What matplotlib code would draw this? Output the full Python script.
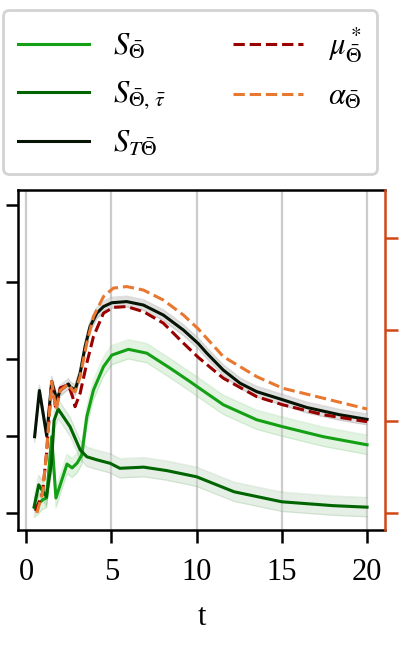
import matplotlib
matplotlib.use("Agg")
import matplotlib.pyplot as plt
import numpy as np

plt.rcParams['font.family'] = ['Liberation Serif', 'DejaVu Serif']
plt.rcParams['mathtext.fontset'] = 'stix'

# values (left-axis units)
t_S = [0.5, 0.96, 1.2, 1.5, 1.75, 2.4, 2.7, 3.0, 3.26, 3.56, 3.95, 4.54, 5.03, 6.0, 7.08, 8.45,
       9.62, 10.1, 11.57, 13.53, 15.05, 17.44, 20]
S = [0.013, 0.034, 0.039, 0.198, 0.039, 0.127, 0.117, 0.130, 0.150, 0.250, 0.319, 0.380, 0.410,
     0.425, 0.415, 0.376, 0.341, 0.326, 0.281, 0.242, 0.224, 0.198, 0.177]

t_Stau = [0.47, 0.74, 1.19, 1.49, 1.64, 1.88, 2.58, 3.17, 3.56, 4.15, 4.93, 5.5, 6.9, 8.25, 10,
          12.2, 15, 18, 20]
S_tau = [0.016, 0.073, 0.042, 0.130, 0.240, 0.270, 0.224, 0.164, 0.146, 0.138, 0.129, 0.116,
         0.119, 0.110, 0.094, 0.055, 0.029, 0.019, 0.015]

t_ST = [0.5, 0.78, 1.21, 1.5, 1.8, 2.0, 2.48, 2.58, 2.87, 3.17, 3.46, 3.75, 4.15, 4.54, 5.03,
        5.9, 6.88, 8.05, 9.23, 10.1, 10.6, 11.57, 12.55, 13.53, 15.05, 16.46, 18.4, 20]
S_T = [0.198, 0.318, 0.200, 0.341, 0.294, 0.318, 0.335, 0.328, 0.319, 0.363, 0.432, 0.484,
       0.519, 0.536, 0.546, 0.549, 0.540, 0.514, 0.475, 0.440, 0.415, 0.371, 0.337, 0.315,
       0.294, 0.274, 0.255, 0.243]

t_mu = [0.55, 0.96, 1.2, 1.5, 1.75, 2.0, 2.48, 2.74, 2.87, 3.17, 3.56, 3.95, 4.54, 5.12, 5.9,
        6.88, 8.05, 9.23, 10.1, 11.57, 13.53, 15.05, 17.44, 20]
mu = [0.005, 0.051, 0.155, 0.341, 0.268, 0.325, 0.333, 0.300, 0.276, 0.311, 0.389, 0.458,
      0.519, 0.534, 0.536, 0.523, 0.493, 0.441, 0.404, 0.350, 0.302, 0.281, 0.255, 0.237]

t_alpha = [0.63, 0.96, 1.2, 1.5, 1.75, 2.0, 2.48, 2.74, 2.87, 3.17, 3.56, 3.95, 4.54, 5.12,
           5.9, 6.88, 8.05, 9.23, 10.1, 11.57, 13.53, 15.05, 17.44, 20]
alpha = [0.0, 0.051, 0.155, 0.341, 0.268, 0.318, 0.335, 0.318, 0.315, 0.354, 0.441, 0.510,
         0.562, 0.584, 0.588, 0.579, 0.553, 0.514, 0.478, 0.406, 0.354, 0.324, 0.298, 0.270]

c_S = '#14a014'
c_Stau = '#006400'
c_ST = '#051405'
c_mu = '#990000'
c_alpha = '#e87830'
c_right = '#d04818'

fig = plt.figure(figsize=(4.02, 6.46), dpi=100)
ax = fig.add_axes([0.045, 0.1796, 0.913, 0.5264])

# uncertainty bands
for tt, yy, c, w, a in [(t_S, S, c_S, 0.025, 0.12), (t_Stau, S_tau, c_Stau, 0.025, 0.1),
                        (t_ST, S_T, '#999999', 0.014, 0.3)]:
    yy = np.array(yy)
    ax.fill_between(tt, yy - w, yy + w, color=c, alpha=a, lw=0)
    ax.plot(tt, yy - w, color=c, alpha=a, lw=1)
    ax.plot(tt, yy + w, color=c, alpha=a, lw=1)

l1, = ax.plot(t_S, S, color=c_S, lw=2.2, label=r'$S_{\bar{\Theta}}$')
l2, = ax.plot(t_Stau, S_tau, color=c_Stau, lw=2.2, label=r'$S_{\bar{\Theta},\,\bar{\tau}}$')
l3, = ax.plot(t_ST, S_T, color=c_ST, lw=2.2, label=r'$S_{T\bar{\Theta}}$')
l4, = ax.plot(t_mu, mu, color=c_mu, lw=2.2, ls='--', label=r'$\mu^*_{\bar{\Theta}}$')
l5, = ax.plot(t_alpha, alpha, color=c_alpha, lw=2.2, ls='--', label=r'$\alpha_{\bar{\Theta}}$')

ylo, yhi = -0.0442, 0.839
ax.set_xlim(-0.47, 21.06)
ax.set_ylim(ylo, yhi)
ax.set_xticks([0, 5, 10, 15, 20])
ax.set_yticks([0, 0.2, 0.4, 0.6, 0.8])
ax.set_yticklabels([])
ax.grid(axis='x', color='#cccccc', lw=1.6)
ax.tick_params(axis='both', direction='out', length=9, width=1.8, labelsize=22, pad=11)
for s in ['left', 'bottom', 'top']:
    ax.spines[s].set_linewidth(1.8)
ax.spines['right'].set_visible(False)
ax.set_xlabel('t', fontsize=22, labelpad=12)

# right axis: ticks only
step = 0.2377
ax2 = ax.twinx()
ax2.set_ylim(ylo / step, yhi / step)
ax2.set_yticks([0, 1, 2, 3])
ax2.set_yticklabels([])
ax2.tick_params(axis='y', direction='out', length=9, width=1.8, color=c_right)
ax2.spines['right'].set_color(c_right)
ax2.spines['right'].set_linewidth(1.8)
for s in ['left', 'bottom', 'top']:
    ax2.spines[s].set_visible(False)

leg = fig.legend(handles=[l1, l2, l3, l4, l5], ncol=2, loc='upper left',
                 bbox_to_anchor=(0.008, 0.985), borderaxespad=0, fontsize=22,
                 handlelength=2.3, handletextpad=0.8, columnspacing=2.2, labelspacing=0.6,
                 fancybox=True, framealpha=1, borderpad=0.5)
leg.get_frame().set_edgecolor('#d3d3d3')
leg.get_frame().set_linewidth(2)

fig.savefig('out.png', dpi=100)
